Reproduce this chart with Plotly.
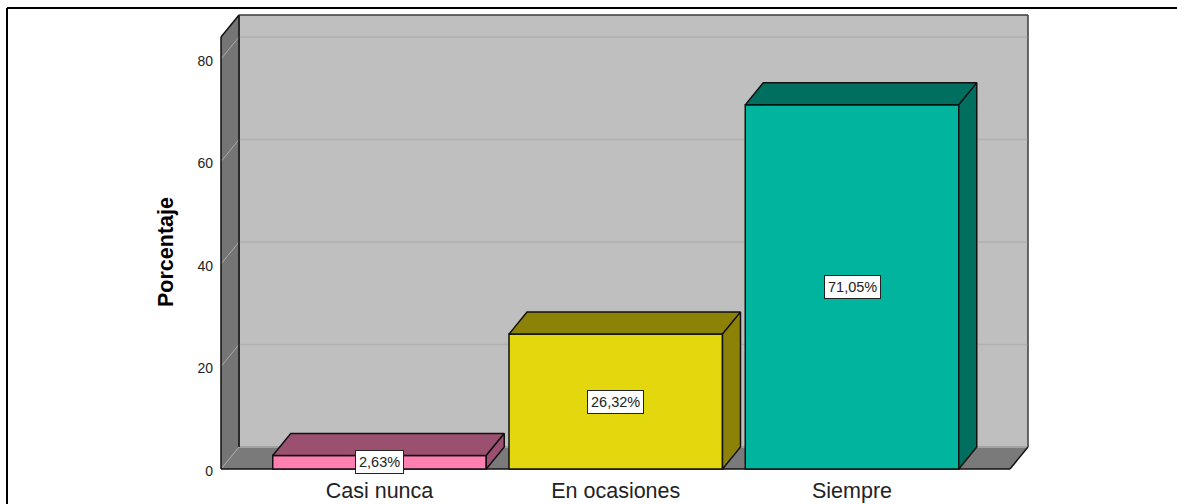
import plotly.graph_objects as go

categories = ["Casi nunca", "En ocasiones", "Siempre"]
values = [2.63, 26.32, 71.05]
front_colors = ["#ff80b0", "#e3d80e", "#00b49e"]
shade_colors = ["#9c5070", "#8c8208", "#006f60"]
y_ticks = [0, 20, 40, 60, 80]
y_title = "Porcentaje"

W, H = 1177, 504
X0_PX, Y0_PX = 379.5, 469
PX_X, PX_Y = 236.25, 5.125
L, R, T, B = 215, 1034, 9, 471
x_range = [1 + (L - X0_PX) / PX_X, 1 + (R - X0_PX) / PX_X]
y_range = [(Y0_PX - B) / PX_Y, (Y0_PX - T) / PX_Y]

DX = 18 / PX_X
DY = 22 / PX_Y
BAR_W = 213.5 / PX_X
XL = 1 + (221 - X0_PX) / PX_X
XR = 1 + (1010 - X0_PX) / PX_X
YT = (469 - 37) / PX_Y

FONT = "Liberation Sans, Arial, sans-serif"


def poly(xs, ys, fill, line="rgba(0,0,0,0)", width=0, layer="below"):
    path = "M" + " L".join(f"{x},{y}" for x, y in zip(xs, ys)) + " Z"
    return dict(type="path", path=path, xref="x", yref="y", fillcolor=fill,
                line=dict(color=line, width=width), layer=layer)


def seg(x0, y0, x1, y1, color, width=1.5, layer="below"):
    return dict(type="line", x0=x0, y0=y0, x1=x1, y1=y1, xref="x", yref="y",
                line=dict(color=color, width=width), layer=layer)


shapes = [
    poly([XL + DX, XR + DX, XR + DX, XL + DX], [DY, DY, YT + DY, YT + DY], "#bfbfbf", "#3c3c3c", 1),
    poly([XL, XR, XR + DX, XL + DX], [0, 0, DY, DY], "#7a7a7a"),
    poly([XL, XL + DX, XL + DX, XL], [0, DY, YT + DY, YT], "#757575"),
]
for t in y_ticks:
    shapes.append(seg(XL, t, XL + DX, t + DY, "#a8a8a8", 1))
    shapes.append(seg(XL + DX, t + DY, XR + DX, t + DY, "#b0b0b0", 1.5))
shapes += [
    seg(XL, 0, XR, 0, "#111111"),
    seg(XR, 0, XR + DX, DY, "#111111"),
    seg(XR + DX, DY, XR + DX, YT + DY, "#3c3c3c", 1),
    seg(XL, 0, XL, YT, "#111111"),
    seg(XL, YT, XL + DX, YT + DY, "#111111"),
    seg(XL + DX, DY, XL + DX, YT + DY, "#111111"),
    seg(XL + DX, YT + DY, XR + DX, YT + DY, "#3c3c3c", 1),
]
# outer frame of the picture
fx = lambda px: (px - L) / (R - L)
fy = lambda px: (B - px) / (B - T)
shapes += [
    dict(type="line", xref="paper", yref="paper", x0=fx(7), x1=fx(W), y0=fy(8), y1=fy(8),
         line=dict(color="#000000", width=2), layer="above"),
    dict(type="line", xref="paper", yref="paper", x0=fx(7), x1=fx(7), y0=fy(8), y1=fy(H),
         line=dict(color="#000000", width=2), layer="above"),
]

fig = go.Figure()
fig.add_trace(go.Bar(
    x=[1, 2, 3], y=values, width=BAR_W,
    marker=dict(color=front_colors, line=dict(color="#111111", width=1.5)),
    hoverinfo="skip", showlegend=False,
))
for i, v in enumerate(values):
    c = i + 1
    a, b = c - BAR_W / 2, c + BAR_W / 2
    fig.add_trace(go.Scatter(
        x=[a, b, b + DX, a + DX, a], y=[v, v, v + DY, v + DY, v],
        mode="lines", fill="toself", fillcolor=shade_colors[i],
        line=dict(color="#111111", width=1.5), hoverinfo="skip", showlegend=False,
    ))
    fig.add_trace(go.Scatter(
        x=[b, b + DX, b + DX, b, b], y=[0, DY, v + DY, v, 0],
        mode="lines", fill="toself", fillcolor=shade_colors[i],
        line=dict(color="#111111", width=1.5), hoverinfo="skip", showlegend=False,
    ))

annotations = [
    dict(x=i + 1, y=v / 2, xref="x", yref="y", text=f"{v:.2f}%".replace(".", ","),
         showarrow=False, bgcolor="#ffffff", bordercolor="#222222", borderwidth=1, borderpad=3,
         font=dict(family=FONT, size=14.5, color="#222222"))
    for i, v in enumerate(values)
]
annotations.append(dict(
    x=fx(166), xref="paper", y=fy(252), yref="paper", text=f"<b>{y_title}</b>",
    textangle=-90, showarrow=False, xanchor="center", yanchor="middle",
    font=dict(family=FONT, size=21.5, color="#000000"),
))

fig.update_layout(
    width=W, height=H, autosize=False,
    margin=dict(l=L, r=W - R, t=T, b=H - B, pad=0, autoexpand=False),
    paper_bgcolor="#ffffff", plot_bgcolor="rgba(0,0,0,0)",
    showlegend=False, shapes=shapes, annotations=annotations,
    xaxis=dict(range=x_range, tickmode="array", tickvals=[1, 2, 3], ticktext=categories,
               showgrid=False, zeroline=False, showline=False, ticks="outside", ticklen=0,
               automargin=False,
               tickfont=dict(family=FONT, size=21.5, color="#222222"), fixedrange=True),
    yaxis=dict(range=y_range, tickmode="array", tickvals=y_ticks,
               showgrid=False, zeroline=False, showline=False, ticks="", ticklen=0,
               automargin=False, ticklabelshift=2, ticklabelstandoff=1,
               tickfont=dict(family=FONT, size=14, color="#222222"),
               fixedrange=True),
)

fig.write_html("out.html", config={"displayModeBar": False},
               post_script="document.body.style.margin='0';document.body.style.overflow='hidden';")
